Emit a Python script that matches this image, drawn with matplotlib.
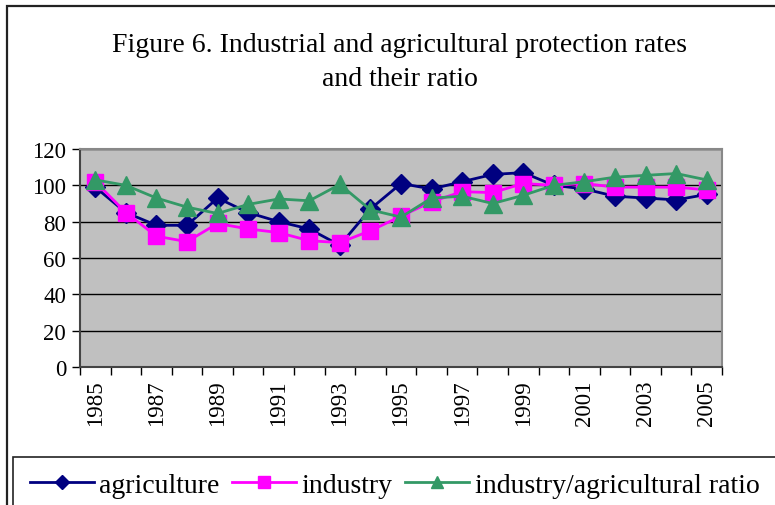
import numpy as np
import matplotlib.pyplot as plt
from matplotlib.patches import Rectangle

years = list(range(1985, 2006))
agriculture = [99, 85, 78, 78, 93, 85, 80, 76, 67, 87, 101, 98, 102, 106, 107,
               100, 98, 94, 93, 92, 95]
industry = [102, 85, 72, 69, 79, 76, 74, 69.5, 68.5, 75, 83, 91, 96.5, 96, 101,
            100, 101, 99, 99, 99, 97.5]
ratio = [103, 100, 93, 88, 84.5, 89.5, 92.5, 91.5, 100.5, 86.5, 82.5, 93, 94, 90, 94.5,
         100, 102, 104.5, 105.5, 106.5, 103]

plt.rcParams['font.family'] = ['Liberation Serif', 'DejaVu Serif']

W, H = 775, 506
fig = plt.figure(figsize=(W / 100, H / 100), dpi=100)

# outer chart border (runs off the right and bottom)
fig.patches.append(Rectangle((7 / W, -0.1), 1.1, 1 - 7 / H + 0.1, transform=fig.transFigure,
                             fill=False, edgecolor='#222222', linewidth=1.6, clip_on=False))
# legend box
fig.patches.append(Rectangle((13 / W, -0.1), 1.1, 1 - 458 / H + 0.1, transform=fig.transFigure,
                             fill=False, edgecolor='#222222', linewidth=1.2, clip_on=False))

left, right, top, bottom = 80, 722, 150, 368
ax = fig.add_axes([left / W, 1 - bottom / H, (right - left) / W, (bottom - top) / H])
ax.set_facecolor('#C0C0C0')

x = np.arange(len(years))
ax.plot(x, agriculture, color='#000080', marker='D', markersize=10, linewidth=2, label='agriculture', zorder=3)
ax.plot(x, industry, color='#FF00FF', marker='s', markersize=12, linewidth=2, label='industry', zorder=4)
ax.plot(x, ratio, color='#339966', marker='^', markersize=13, linewidth=2,
        label='industry/agricultural ratio', zorder=5)

ax.set_xlim(-0.5, len(years) - 0.5)
ax.set_ylim(0, 120)
ax.set_yticks(range(0, 121, 20))
ax.yaxis.grid(True, color='black', linewidth=1)
ax.set_axisbelow(True)

ax.set_xticks(np.arange(-0.5, len(years), 1))
ax.set_xticklabels([])
ax.set_xticks(x[::2], minor=True)
ax.set_xticklabels([str(y) for y in years[::2]], minor=True, rotation=90, fontsize=16.5)
ax.tick_params(axis='x', which='minor', length=0, pad=9)
ax.tick_params(axis='x', which='major', length=6, width=1, color='black')
ax.tick_params(axis='y', length=6, width=1, labelsize=16.5, pad=4)

for s in ['top', 'right']:
    ax.spines[s].set_color('#888888')
    ax.spines[s].set_linewidth(1.5)
ax.spines['left'].set_color('#444444')
ax.spines['left'].set_linewidth(1.5)
ax.spines['bottom'].set_color('#444444')
ax.spines['bottom'].set_linewidth(1.5)

fig.text(400 / W, 1 - 46 / H, 'Figure 6. Industrial and agricultural protection rates',
         ha='center', va='center', fontsize=20)
fig.text(400 / W, 1 - 80 / H, 'and their ratio', ha='center', va='center', fontsize=20)

h, l = ax.get_legend_handles_labels()
fig.legend(h, l, ncol=3, loc='center left', bbox_to_anchor=(30 / W, 1 - 486 / H),
           frameon=False, fontsize=20, handlelength=2.3, handletextpad=0.2,
           columnspacing=0.45, borderaxespad=0, borderpad=0, markerscale=0.7)

fig.savefig('out.png', dpi=100)
